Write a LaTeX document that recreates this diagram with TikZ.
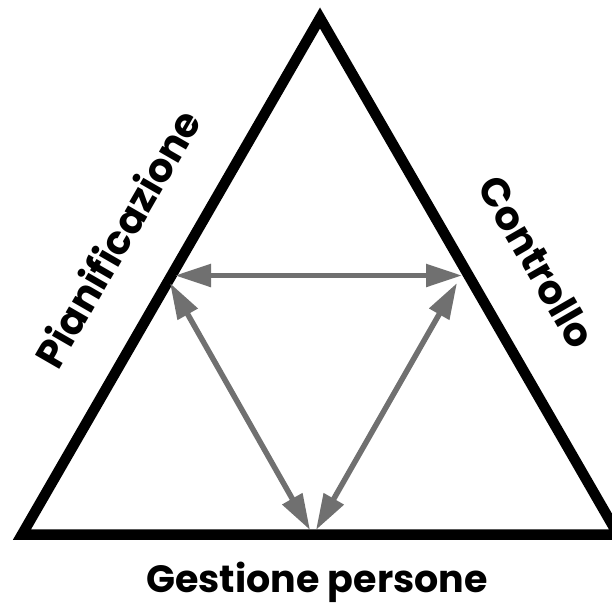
\documentclass[tikz,border=0pt]{standalone}
\usepackage{fontspec}
\setmainfont{Poppins}
\usetikzlibrary{arrows.meta}
\begin{document}
\begin{tikzpicture}[x=1pt,y=-1pt,
  side/.style={line width=10.5pt,line join=miter,black},
  link/.style={line width=5.5pt,draw={rgb,255:red,112;green,112;blue,112},
    {Triangle[length=36pt,width=22pt]}-{Triangle[length=36pt,width=22pt]}},
  lbl/.style={font=\fontsize{38}{40}\selectfont\bfseries,inner sep=0pt},
  sidelbl/.style={font=\fontsize{40}{42}\selectfont\bfseries,inner sep=0pt}]
\useasboundingbox (0,0) rectangle (611,613);
\coordinate (L) at (22,534.5);
\coordinate (R) at (618,534.5);
\coordinate (T) at (320,18);
\draw[side] (L) -- (T) -- (R) -- cycle;
\coordinate (a1) at (175,275.5);
\coordinate (a2) at (462,275.5);
\coordinate (b1) at (170,283);
\coordinate (b2) at (310,530);
\coordinate (c1) at (457,283);
\coordinate (c2) at (316,530);
\draw[link] (a1) -- (a2);
\draw[link] (b1) -- (b2);
\draw[link] (c1) -- (c2);
\node[lbl,anchor=base] (g) at (317,592) {Gestione\ persone};
\node[sidelbl,rotate=60] (p) at (117,238) {Pianificazione};
\node[sidelbl,rotate=-60] (c) at (537,262) {Controllo};
\end{tikzpicture}
\end{document}
